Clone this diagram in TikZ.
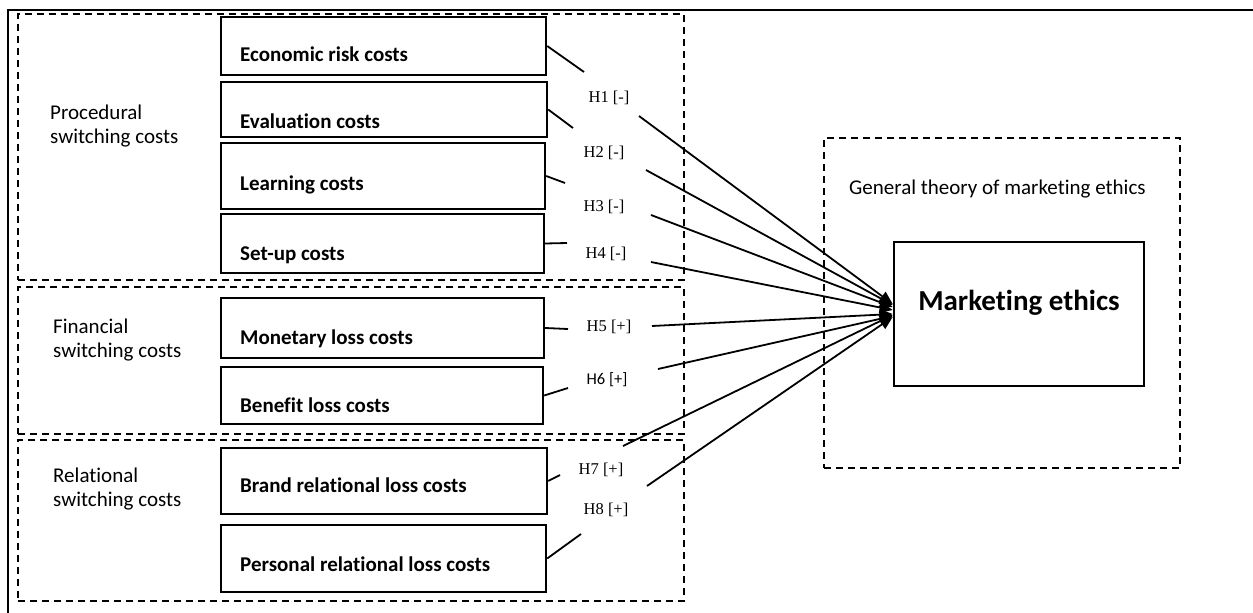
\documentclass[tikz,border=0pt]{standalone}
\usepackage{fontspec}
\setmainfont{Carlito}[Ligatures=NoCommon]
\newfontfamily\hypfont{Liberation Serif}
\usetikzlibrary{arrows.meta,calc,fit}

\begin{document}
\begin{tikzpicture}[x=1pt,y=-1pt,
  frame/.style={line width=2.5pt},
  groupbox/.style={draw, rectangle, inner sep=0pt, line width=1.8pt, dash pattern=on 7pt off 5pt},
  costbox/.style={draw, rectangle, inner sep=0pt, line width=2.4pt},
  costtext/.style={anchor=base west, inner sep=0pt, font=\fontsize{21}{25}\selectfont\bfseries},
  grouplabel/.style={anchor=base west, inner sep=0pt, align=left, font=\fontsize{21}{23.5}\selectfont},
  hyp/.style={anchor=base, inner sep=0pt, font=\hypfont\fontsize{16.5}{20}\selectfont},
  link/.style={line width=1.8pt},
  effect/.style={link, -{Triangle[length=13pt,width=11pt]}}
]
\useasboundingbox (0,0) rectangle (1253,613);

% outer frame (open to the right and bottom)
\draw[frame] (1253,10) -- (8,10) -- (8,613);

% dashed groups of switching costs
\node[groupbox, fit={(18,14) (684,280)}] (proc) {};
\node[groupbox, fit={(18,287) (684,434)}] (fin) {};
\node[groupbox, fit={(18,440) (684,601)}] (rel) {};
\node[groupbox, fit={(824,138) (1180,468)}] (theory) {};

% group labels (placed by the baseline of their last line)
\node[grouplabel] (procl) at (50,143) {Procedural\\switching costs};
\node[grouplabel] (finl) at (53,357) {Financial\\switching costs};
\node[grouplabel] (rell) at (53,506) {Relational\\switching costs};
\node[anchor=base west, inner sep=0pt, font=\fontsize{21}{25}\selectfont] (theoryl) at (849,194) {General theory of marketing ethics};

% cost boxes
\node[costbox, fit={(221,17) (546,75)}] (econ) {};
\node[costbox, fit={(221,82) (547,137)}] (eval) {};
\node[costbox, fit={(221,143) (545,209)}] (learn) {};
\node[costbox, fit={(221,214) (544,273)}] (setup) {};
\node[costbox, fit={(221,298) (544,358)}] (money) {};
\node[costbox, fit={(221,367) (543,424)}] (benefit) {};
\node[costbox, fit={(221,448) (547,514)}] (brand) {};
\node[costbox, fit={(221,525) (546,592)}] (personal) {};

\node[costtext] (econt) at (240,61) {Economic risk costs};
\node[costtext] (evalt) at (240,128) {Evaluation costs};
\node[costtext] (learnt) at (240,190) {Learning costs};
\node[costtext] (setupt) at (240,260) {Set-up costs};
\node[costtext] (moneyt) at (240,344) {Monetary loss costs};
\node[costtext] (benefitt) at (240,412) {Benefit loss costs};
\node[costtext] (brandt) at (240,492) {Brand relational loss costs};
\node[costtext] (personalt) at (240,571) {Personal relational loss costs};

% outcome
\node[costbox, line width=2.6pt, fit={(894,242) (1144,386)}] (ethics) {};
\node[anchor=base, inner sep=0pt, font=\fontsize{29}{34}\selectfont\bfseries] (ethicst) at (1019,310) {Marketing ethics};

% hypothesis labels
\node[hyp] (h1) at (609,102) {H1 [-]};
\node[hyp] (h2) at (604,157) {H2 [-]};
\node[hyp] (h3) at (604,211) {H3 [-]};
\node[hyp] (h4) at (606,258) {H4 [-]};
\node[hyp] (h5) at (609,331) {H5 [+]};
\node[hyp, font=\fontsize{16.5}{20}\selectfont] (h6) at (607,384) {H6 [+]};
\node[hyp] (h7) at (601,474) {H7 [+]};
\node[hyp] (h8) at (606,514) {H8 [+]};

% ends of the paths on either side of each label
\coordinate (h1a) at (584,72);  \coordinate (h1b) at (639,116);
\coordinate (h2a) at (573,128); \coordinate (h2b) at (646,170);
\coordinate (h3a) at (565,183); \coordinate (h3b) at (651,215);
\coordinate (h4a) at (567,243); \coordinate (h4b) at (651,262);
\coordinate (h5a) at (568,329); \coordinate (h5b) at (652,326);
\coordinate (h6a) at (568,388); \coordinate (h6b) at (658,369);
\coordinate (h7a) at (560,475); \coordinate (h7b) at (623,446);
\coordinate (h8a) at (581,534); \coordinate (h8b) at (647,486);

% hypothesised effects
\draw[link] (econ.east) -- (h1a);
\draw[link] (eval.east) -- (h2a);
\draw[link] (learn.east) -- (h3a);
\draw[link] (setup.east) -- (h4a);
\draw[link] (money.east) -- (h5a);
\draw[link] (benefit.east) -- (h6a);
\draw[link] (brand.east) -- (h7a);
\draw[link] (personal.east) -- (h8a);

\draw[effect] (h1b) -- ($(ethics.west)+(0,-10)$);
\draw[effect] (h2b) -- ($(ethics.west)+(0,-9)$);
\draw[effect] (h3b) -- ($(ethics.west)+(0,-7)$);
\draw[effect] (h4b) -- ($(ethics.west)+(0,-4)$);
\draw[effect] (h5b) -- ($(ethics.west)+(0,0)$);
\draw[effect] (h6b) -- ($(ethics.west)+(0,2)$);
\draw[effect] (h7b) -- ($(ethics.west)+(0,1)$);
\draw[effect] (h8b) -- ($(ethics.west)+(0,3)$);
\end{tikzpicture}
\end{document}
